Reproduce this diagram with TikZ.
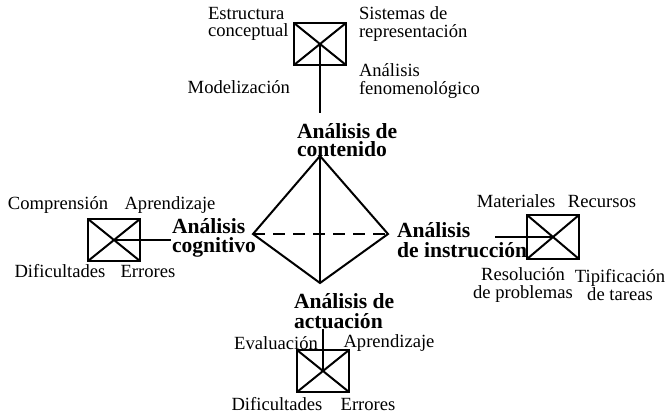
\documentclass[tikz,border=0pt]{standalone}
\usepackage{fontspec}
\setmainfont{Liberation Serif}
\begin{document}
\begin{tikzpicture}[
        x=0.5pt, y=-0.5pt,
        line width=1pt,
        crossbox/.style={draw, rectangle, minimum width=26pt, minimum height=21pt,
            path picture={\draw (path picture bounding box.north west) -- (path picture bounding box.south east)
                (path picture bounding box.north east) -- (path picture bounding box.south west);}},
        facet/.style={font=\bfseries\fontsize{10.8}{9.8}\selectfont, align=left, anchor=west}]

        \tikzstyle{every node}=[font=\fontsize{9.3}{8.6}\selectfont, inner sep=0pt]

        \useasboundingbox (0,0) rectangle (669,412);

        % tetrahedron
        \coordinate (top) at (320,156);
        \coordinate (left) at (253,234);
        \coordinate (right) at (388,234);
        \coordinate (bottom) at (320,283);
        \draw (top) -- (left) -- (bottom) -- (right) -- cycle;
        \draw (top) -- (bottom);
        \draw[dash pattern=on 6pt off 4pt] (left) -- (right);

        % contenido
        \node[facet, font=\bfseries\fontsize{10.8}{9.3}\selectfont] (contenido) at (296,140) {Análisis de\\contenido};
        \node[crossbox] (topbox) at (320,44) {};
        \node[anchor=west, align=left] (estructura) at (207,24) {Estructura\\conceptual};
        \node[anchor=west, align=left] (sistemas) at (358,24) {Sistemas de\\representación};
        \node[anchor=east] (modelizacion) at (291,87) {Modelización};
        \node[anchor=west, align=left] (fenomeno) at (358,81) {Análisis\\fenomenológico};
        \coordinate (topend) at (320,113);
        \draw (topbox.center) -- (topend);

        % cognitivo
        \node[facet] (cognitivo) at (171,238) {Análisis\\cognitivo};
        \node[crossbox] (leftbox) at (114,240) {};
        \node (comprension) at (58,205) {Comprensión};
        \node (aprendizajeA) at (170,205) {Aprendizaje};
        \node (dificultadesA) at (60,271) {Dificultades};
        \node (erroresA) at (148,271) {Errores};
        \draw (leftbox.center) -- (leftbox.center -| cognitivo.west);

        % instruccion
        \node[facet] (instruccion) at (396,240) {Análisis\\de instrucción};
        \node[crossbox, minimum height=22pt] (rightbox) at (553,237) {};
        \node (materiales) at (516,201) {Materiales};
        \node (recursos) at (602,201) {Recursos};
        \node[align=center] (resolucion) at (523,285) {Resolución\\de problemas};
        \node[align=center] (tipificacion) at (620,285) {Tipificación\\de tareas};
        \coordinate (rightend) at (495,237);
        \draw (rightbox.center) -- (rightend);

        % actuacion
        \node[facet] (actuacion) at (293,311) {Análisis de\\actuación};
        \node[crossbox] (botbox) at (323,371) {};
        \node (evaluacion) at (276,343) {Evaluación};
        \node (aprendizajeB) at (389,343) {Aprendizaje};
        \node (dificultadesB) at (277,404) {Dificultades};
        \node (erroresB) at (368,404) {Errores};
        \draw (botbox |- actuacion.south) -- (botbox.center);
    \end{tikzpicture}
\end{document}
